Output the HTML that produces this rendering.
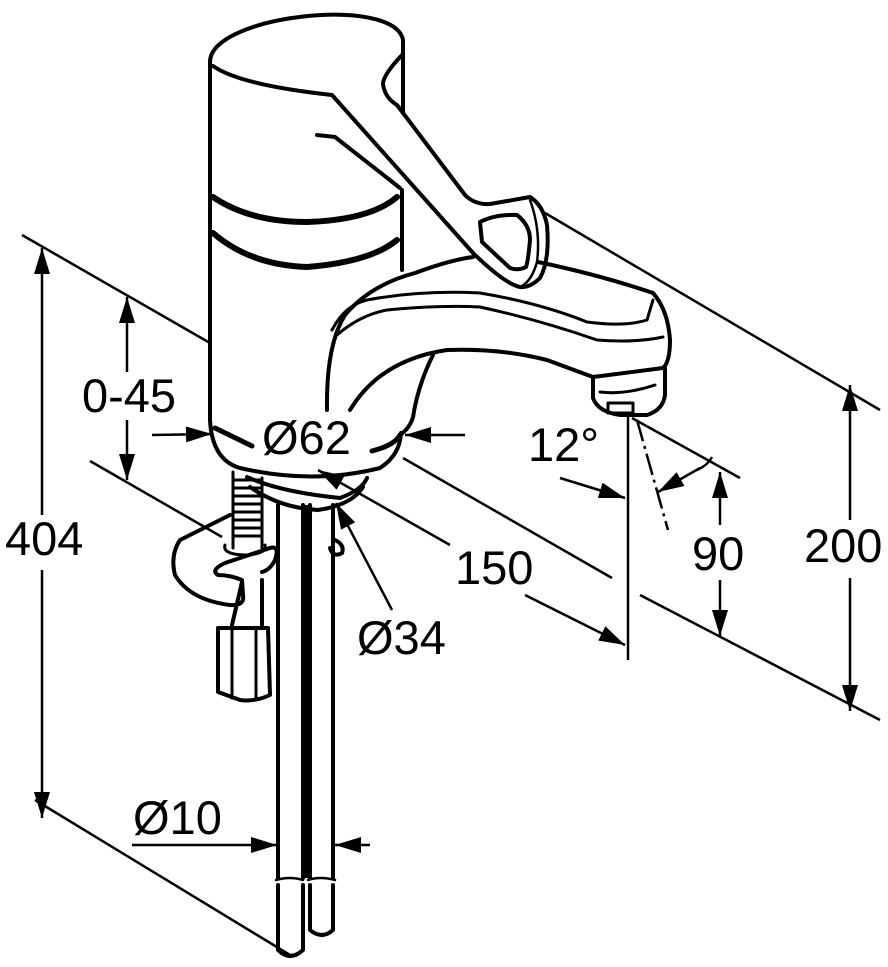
<!DOCTYPE html>
<html><head><meta charset="utf-8"><style>
html,body{margin:0;padding:0;background:#fff}
svg{display:block}
text{font-family:"Liberation Sans",sans-serif;font-size:47px;fill:#000}
</style></head><body>
<svg width="888" height="967" viewBox="0 0 888 967" xmlns="http://www.w3.org/2000/svg">
<defs>
<marker id="a" viewBox="0 0 26 16" refX="26" refY="8" markerWidth="26" markerHeight="16" markerUnits="userSpaceOnUse" orient="auto"><path d="M0,0 L26,8 L0,16 Z" fill="#000"/></marker>
</defs>
<g stroke="#000" fill="none" stroke-width="2.5">
<line x1="22" y1="235" x2="210" y2="343"/>
<line x1="90" y1="461" x2="222" y2="537"/>
<line x1="35" y1="800" x2="290" y2="955"/>
<line x1="403" y1="458" x2="612" y2="578"/>
<line x1="545" y1="213" x2="880" y2="410"/>
<line x1="640" y1="595" x2="880" y2="720"/>
<line x1="632" y1="418" x2="740" y2="478"/>
<line x1="637" y1="420" x2="668" y2="530" stroke-dasharray="22,5,3,5"/>
<path d="M697,470 Q708,465 712,457"/>
<line x1="42" y1="515" x2="42" y2="248" marker-end="url(#a)"/>
<line x1="42" y1="570" x2="42" y2="818" marker-end="url(#a)"/>
<line x1="127" y1="372" x2="127" y2="297" marker-end="url(#a)"/>
<line x1="127" y1="420" x2="127" y2="480" marker-end="url(#a)"/>
<line x1="152" y1="435" x2="212" y2="434" marker-end="url(#a)"/>
<line x1="465" y1="435" x2="405" y2="435" marker-end="url(#a)"/>
<line x1="450" y1="545" x2="318" y2="470" marker-end="url(#a)"/>
<line x1="392" y1="610" x2="336" y2="503" marker-end="url(#a)"/>
<line x1="525" y1="595" x2="625" y2="645" marker-end="url(#a)"/>
<line x1="560" y1="478" x2="625" y2="498" marker-end="url(#a)"/>
<line x1="700" y1="468" x2="658" y2="492" marker-end="url(#a)"/>
<line x1="720" y1="525" x2="720" y2="472" marker-end="url(#a)"/>
<line x1="720" y1="580" x2="720" y2="636" marker-end="url(#a)"/>
<line x1="850" y1="520" x2="850" y2="385" marker-end="url(#a)"/>
<line x1="850" y1="578" x2="850" y2="711" marker-end="url(#a)"/>
<line x1="132" y1="845" x2="277" y2="845" marker-end="url(#a)"/>
<line x1="370" y1="845" x2="335" y2="845" marker-end="url(#a)"/>
<line x1="628" y1="415" x2="628" y2="660"/>
</g>
<g stroke="#000" fill="none" stroke-width="4" stroke-linejoin="round" stroke-linecap="round">
<!-- pipes -->
<path d="M278,505 V878 M303,505 V878 M278,885 V950 Q290,962 303,950 V885"/>
<path d="M310,505 V878 M333,505 V878 M310,885 V930 Q322,940 333,930 V885"/>
<rect x="302" y="505" width="6" height="373" fill="#000" stroke="none"/>
<path d="M276,880 Q290,876 303,880 M308,880 Q320,876 335,880" stroke-width="2.5"/>
<!-- base ring -->
<path d="M247,477 Q280,492 340,498 Q362,490 367,478"/>
<path d="M250,487 Q280,508 318,510 Q352,505 363,487"/>
<!-- body -->
<path d="M210,62 C210,15 395,-5 403,40 V113"/>
<path d="M402,190 V270"/>
<path d="M210,62 V420 Q212,460 240,468 Q313,485 380,468 Q400,455 401,433"/>
<path d="M213,66 Q240,85 332,95 L473,253"/>
<path d="M317,135 L335,137 L400,188"/>
<path d="M213,197 Q250,222 307,222 Q370,220 397,197" stroke-width="6"/>
<path d="M213,233 Q250,265 307,267 Q370,262 397,240" stroke-width="6"/>
<path d="M215,428 L252,446" stroke-width="5"/>
<path d="M372,451 Q395,445 400,435" stroke-width="5"/>
<!-- lever -->
<path d="M402,55 Q383,75 383,84 Q385,98 397,105 L465,195 Q475,205 490,204 L530,197 Q543,205 547,225 Q550,260 540,278 Q530,288 520,287 Q505,284 473,253"/>
<path d="M530,200 Q541,230 537,262 Q532,280 522,286" stroke-width="2.5"/>
<path d="M480,222 Q495,214 517,215 Q530,225 530,240 Q528,262 526,267 Q518,271 510,268 L482,242 Z"/>
<!-- spout -->
<path d="M327,410 Q326,345 345,315 Q370,285 415,273 Q450,260 473,257"/>
<path d="M538,262 Q600,275 653,293 Q668,310 670,340 Q670,362 663,368"/>
<path d="M332,330 Q345,305 367,300 Q420,290 480,293 Q540,303 587,322 Q625,327 647,320 L653,300" stroke-width="3"/>
<path d="M337,335 Q360,315 387,310 Q440,305 480,307 Q540,320 597,340 Q635,343 663,337" stroke-width="3"/>
<path d="M350,410 Q380,360 447,350 Q500,348 547,360 L593,377 L663,368"/>
<path d="M433,355 Q418,385 413,417 Q410,428 400,435"/>
<path d="M593,377 V398 Q598,412 620,415 L647,415 Q663,410 665,395 V368"/>
<path d="M600,392 Q625,395 655,385" stroke-width="3"/>
<rect x="608" y="403" width="25" height="10" stroke-width="3"/>
<!-- mounting -->
<path d="M233,472 V548 M262,478 V548" stroke-width="3"/>
<path d="M234,480 H260 M234,488 H260 M234,496 H260 M234,504 H260 M234,512 H260 M234,520 H260 M234,528 H260 M234,536 H260" stroke-width="3"/>
<path d="M225,545 Q222,555 248,555 Q268,553 265,545" stroke-width="3"/>
<path d="M230,515 L180,540 Q170,555 175,575 Q190,600 230,605 Q245,606 243,595 L242,580 Q230,575 218,575 Q210,570 225,563 L270,548 Q280,545 275,560 Q270,570 262,572"/>
<path d="M242,582 L232,625 M262,580 L262,625"/>
<path d="M218,628 H268 L270,695 Q255,702 240,700 L218,692 Z"/>
<path d="M232,628 V698 M256,628 V700" stroke-width="3"/>
<path d="M335,540 Q345,545 342,553 Q333,558 330,548"/>
</g>
<text x="5" y="555">404</text>
<text x="82" y="412">0-45</text>
<text x="262" y="454">Ø62</text>
<text x="528" y="461">12°</text>
<text x="455" y="584">150</text>
<text x="692" y="570">90</text>
<text x="804" y="562">200</text>
<text x="357" y="654">Ø34</text>
<text x="133" y="834">Ø10</text>
</svg>
</body></html>
